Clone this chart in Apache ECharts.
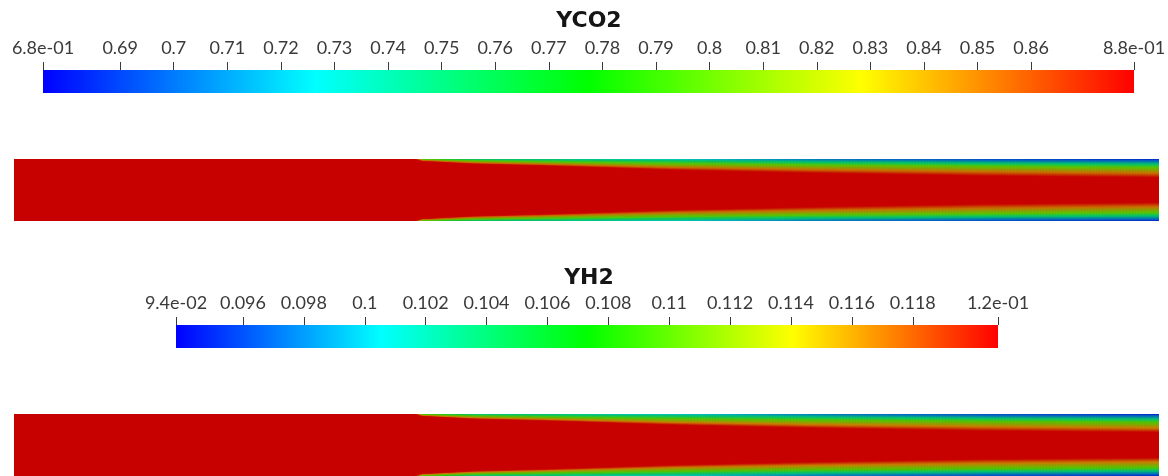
<!DOCTYPE html>
<html>
<head>
<meta charset="utf-8">
<script src="https://cdn.jsdelivr.net/npm/echarts@6/dist/echarts.min.js"></script>
<style>
  html, body { margin: 0; padding: 0; background: #ffffff; }
  #chart { width: 1168px; height: 476px; }
</style>
</head>
<body>
<div id="chart"></div>
<script>
// ---- Colour bar ranges and tick values ----
const co2Range = [0.6756, 0.8792];
const co2Ticks = [0.69, 0.70, 0.71, 0.72, 0.73, 0.74, 0.75, 0.76, 0.77, 0.78, 0.79, 0.80, 0.81, 0.82, 0.83, 0.84, 0.85, 0.86];
const co2EndLabels = ['6.8e-01', '8.8e-01'];

const h2Range = [0.0938, 0.1208];
const h2Ticks = [0.096, 0.098, 0.100, 0.102, 0.104, 0.106, 0.108, 0.110, 0.112, 0.114, 0.116, 0.118];
const h2EndLabels = ['9.4e-02', '1.2e-01'];

// ---- Channel geometry (mm) ----
const channelLength = 114.5;
const channelHeight = 6.2;

// Axial stations through the wall mixing layer (mm from the inlet)
const stations = [40.1, 40.8, 46, 54, 66, 80, 97, 114.5];

// ---- YCO2 field ----
const co2Core = 0.8792;
const co2Levels = [0.700, 0.750, 0.800, 0.850, 0.875];
const co2Wall = [0.879, 0.777, 0.747, 0.737, 0.727, 0.706, 0.692, 0.684];
// wall distance (mm) of each iso-level (rows) at each station (columns)
const co2IsoDist = [
  [0, 0,    0,    0,    0,    0,    0.09, 0.16],
  [0, 0,    0.02, 0.08, 0.18, 0.33, 0.45, 0.54],
  [0, 0.04, 0.20, 0.32, 0.48, 0.62, 0.74, 0.86],
  [0, 0.14, 0.38, 0.55, 0.84, 1.06, 1.27, 1.42],
  [0, 0.20, 0.48, 0.68, 1.06, 1.36, 1.64, 1.80]
];

// ---- YH2 field ----
const h2Core = 0.1208;
const h2Levels = [0.0970, 0.1035, 0.1100, 0.1165, 0.1202];
const h2Wall = [0.1208, 0.1073, 0.1033, 0.1019, 0.1006, 0.0979, 0.0960, 0.0949];
const h2IsoDist = [
  [0, 0,    0,    0,    0,    0,    0.09, 0.16],
  [0, 0,    0.02, 0.08, 0.18, 0.33, 0.45, 0.53],
  [0, 0.04, 0.20, 0.32, 0.48, 0.62, 0.74, 0.85],
  [0, 0.14, 0.38, 0.55, 0.84, 1.06, 1.26, 1.41],
  [0, 0.20, 0.48, 0.68, 1.06, 1.36, 1.63, 1.78]
];

// ---- Colour map (blue -> cyan -> green -> yellow -> red) ----
const rampStops = [
  [0.00, [0, 0, 255]],
  [0.25, [0, 255, 255]],
  [0.50, [0, 255, 0]],
  [0.75, [255, 255, 0]],
  [1.00, [255, 0, 0]]
];
const fieldShade = 0.78;   // surface lighting on the rendered fields

function rampColor(t, shade) {
  t = Math.max(0, Math.min(1, t));
  let i = 0;
  while (i < rampStops.length - 2 && t > rampStops[i + 1][0]) i++;
  const [t0, c0] = rampStops[i];
  const [t1, c1] = rampStops[i + 1];
  const f = (t - t0) / (t1 - t0);
  const c = c0.map((v, k) => Math.round((v + (c1[k] - v) * f) * shade));
  return 'rgb(' + c.join(',') + ')';
}
const norm = (v, range) => (v - range[0]) / (range[1] - range[0]);

// ---- Colour bar rectangle ----
function colorbarItem(params, api) {
  const p0 = api.coord([api.value(0), 0]);
  const p1 = api.coord([api.value(1), 1]);
  const stops = [];
  for (let k = 0; k <= 40; k++) {
    stops.push({ offset: k / 40, color: rampColor(k / 40, 1) });
  }
  return {
    type: 'rect',
    shape: { x: p0[0], y: p1[1], width: p1[0] - p0[0], height: p0[1] - p1[1] },
    style: { fill: new echarts.graphic.LinearGradient(0, 0, 1, 0, stops) }
  };
}

// ---- Field: uniform core ----
function coreItem(color) {
  return function (params, api) {
    const p0 = api.coord([api.value(0), 0]);
    const p1 = api.coord([api.value(1), channelHeight]);
    return {
      type: 'rect',
      shape: { x: p0[0], y: p1[1], width: p1[0] - p0[0], height: p0[1] - p1[1] },
      style: { fill: color }
    };
  };
}

// ---- Field: bands between neighbouring iso-levels, on both walls ----
// Each band item keeps the edge values at both stations so the shading
// follows the band along the channel.
function buildBands(levels, wall, dist, range) {
  const items = [];
  for (let i = 0; i < stations.length - 1; i++) {
    for (let k = 0; k < levels.length; k++) {
      const lo0 = k === 0 ? 0 : dist[k - 1][i];
      const lo1 = k === 0 ? 0 : dist[k - 1][i + 1];
      const up0 = dist[k][i];
      const up1 = dist[k][i + 1];
      const vLo0 = k === 0 ? wall[i] : Math.max(levels[k - 1], wall[i]);
      const vLo1 = k === 0 ? wall[i + 1] : Math.max(levels[k - 1], wall[i + 1]);
      const vUp0 = Math.max(levels[k], wall[i]);
      const vUp1 = Math.max(levels[k], wall[i + 1]);
      for (let side = 0; side < 2; side++) {
        items.push([stations[i], stations[i + 1], lo0, lo1, up0, up1,
                    norm(vLo0, range), norm(vLo1, range),
                    norm(vUp0, range), norm(vUp1, range), side]);
      }
    }
  }
  return items;
}

function bandItem(params, api) {
  const x0 = api.value(0), x1 = api.value(1);
  const lo0 = api.value(2), lo1 = api.value(3);
  const up0 = api.value(4), up1 = api.value(5);
  const tLo0 = api.value(6), tLo1 = api.value(7);
  const tUp0 = api.value(8), tUp1 = api.value(9);
  const side = api.value(10);
  if (up0 - lo0 <= 1e-9 && up1 - lo1 <= 1e-9) return null;
  const yOf = d => (side === 0 ? d : channelHeight - d);
  const a = api.coord([x0, yOf(lo0)]);
  const b = api.coord([x1, yOf(lo1)]);
  const c = api.coord([x1, yOf(up1)]);
  const d = api.coord([x0, yOf(up0)]);
  // shade the quad in narrow strips so the gradient follows the sloping edges
  const n = Math.max(1, Math.ceil((b[0] - a[0]) / 3));
  const lerp = (p, q, f) => [p[0] + (q[0] - p[0]) * f, p[1] + (q[1] - p[1]) * f];
  const children = [];
  for (let s = 0; s < n; s++) {
    const f0 = s / n, f1 = (s + 1) / n, fm = (s + 0.5) / n;
    const pa = lerp(a, b, f0), pb = lerp(a, b, f1);
    const pd = lerp(d, c, f0), pc = lerp(d, c, f1);
    const yLow = (pa[1] + pb[1]) / 2;
    const yUp = (pc[1] + pd[1]) / 2;
    if (Math.abs(yUp - yLow) <= 0.05) continue;
    const cLo = rampColor(tLo0 + (tLo1 - tLo0) * fm, fieldShade);
    const cUp = rampColor(tUp0 + (tUp1 - tUp0) * fm, fieldShade);
    const fill = new echarts.graphic.LinearGradient(0, yLow, 0, yUp,
      [{ offset: 0, color: cLo }, { offset: 1, color: cUp }], true);
    children.push({
      type: 'polygon',
      shape: { points: [pa, pb, pc, pd] },
      style: { fill: fill, stroke: fill, lineWidth: 0.6 }
    });
  }
  return { type: 'group', children: children };
}

// ---- Axis helpers ----
function barAxis(gridIndex, range, ticks, endLabels) {
  const values = [range[0]].concat(ticks, [range[1]]);
  return {
    type: 'value', gridIndex: gridIndex, position: 'top',
    min: range[0], max: range[1], z: 5,
    axisLine: { show: false, onZero: false },
    splitLine: { show: false },
    axisTick: {
      show: true, inside: false, length: 8, customValues: values,
      lineStyle: { color: '#3a3a3a', width: 1 }
    },
    axisLabel: {
      show: true, customValues: values, margin: 13,
      fontFamily: 'Lato', fontSize: 18, color: '#3a3a3a',
      showMinLabel: true, showMaxLabel: true, hideOverlap: false,
      formatter: v => {
        if (Math.abs(v - range[0]) < 1e-9) return endLabels[0];
        if (Math.abs(v - range[1]) < 1e-9) return endLabels[1];
        return String(parseFloat(v.toFixed(4)));
      }
    }
  };
}
function hiddenAxis(gridIndex, min, max) {
  return { type: 'value', gridIndex: gridIndex, min: min, max: max, show: false };
}

const co2Bands = buildBands(co2Levels, co2Wall, co2IsoDist, co2Range);
const h2Bands = buildBands(h2Levels, h2Wall, h2IsoDist, h2Range);

const chart = echarts.init(document.getElementById('chart'), null, { renderer: 'canvas' });
chart.setOption({
  animation: false,
  backgroundColor: '#ffffff',
  grid: [
    { left: 43, top: 70, width: 1091, height: 23, containLabel: false, outerBoundsMode: 'none' },
    { left: 14, top: 159, width: 1145, height: 62, containLabel: false, outerBoundsMode: 'none' },
    { left: 176, top: 325, width: 822, height: 23, containLabel: false, outerBoundsMode: 'none' },
    { left: 14, top: 414, width: 1145, height: 62, containLabel: false, outerBoundsMode: 'none' }
  ],
  xAxis: [
    barAxis(0, co2Range, co2Ticks, co2EndLabels),
    hiddenAxis(1, 0, channelLength),
    barAxis(2, h2Range, h2Ticks, h2EndLabels),
    hiddenAxis(3, 0, channelLength)
  ],
  yAxis: [
    hiddenAxis(0, 0, 1),
    hiddenAxis(1, 0, channelHeight),
    hiddenAxis(2, 0, 1),
    hiddenAxis(3, 0, channelHeight)
  ],
  graphic: [
    { type: 'text', x: 589, y: 21, silent: true,
      style: { text: 'YCO2', font: 'bold 22px "DejaVu Sans"', fill: '#151515',
               textAlign: 'center', textVerticalAlign: 'middle' } },
    { type: 'text', x: 589, y: 278, silent: true,
      style: { text: 'YH2', font: 'bold 22px "DejaVu Sans"', fill: '#151515',
               textAlign: 'center', textVerticalAlign: 'middle' } }
  ],
  series: [
    { type: 'custom', xAxisIndex: 0, yAxisIndex: 0, silent: true,
      data: [co2Range], renderItem: colorbarItem },
    { type: 'custom', xAxisIndex: 1, yAxisIndex: 1, silent: true, clip: true,
      data: [[0, channelLength]], renderItem: coreItem(rampColor(norm(co2Core, co2Range), fieldShade)) },
    { type: 'custom', xAxisIndex: 1, yAxisIndex: 1, silent: true, clip: true,
      data: co2Bands, renderItem: bandItem },
    { type: 'custom', xAxisIndex: 2, yAxisIndex: 2, silent: true,
      data: [h2Range], renderItem: colorbarItem },
    { type: 'custom', xAxisIndex: 3, yAxisIndex: 3, silent: true, clip: true,
      data: [[0, channelLength]], renderItem: coreItem(rampColor(norm(h2Core, h2Range), fieldShade)) },
    { type: 'custom', xAxisIndex: 3, yAxisIndex: 3, silent: true, clip: true,
      data: h2Bands, renderItem: bandItem }
  ]
});
</script>
</body>
</html>
